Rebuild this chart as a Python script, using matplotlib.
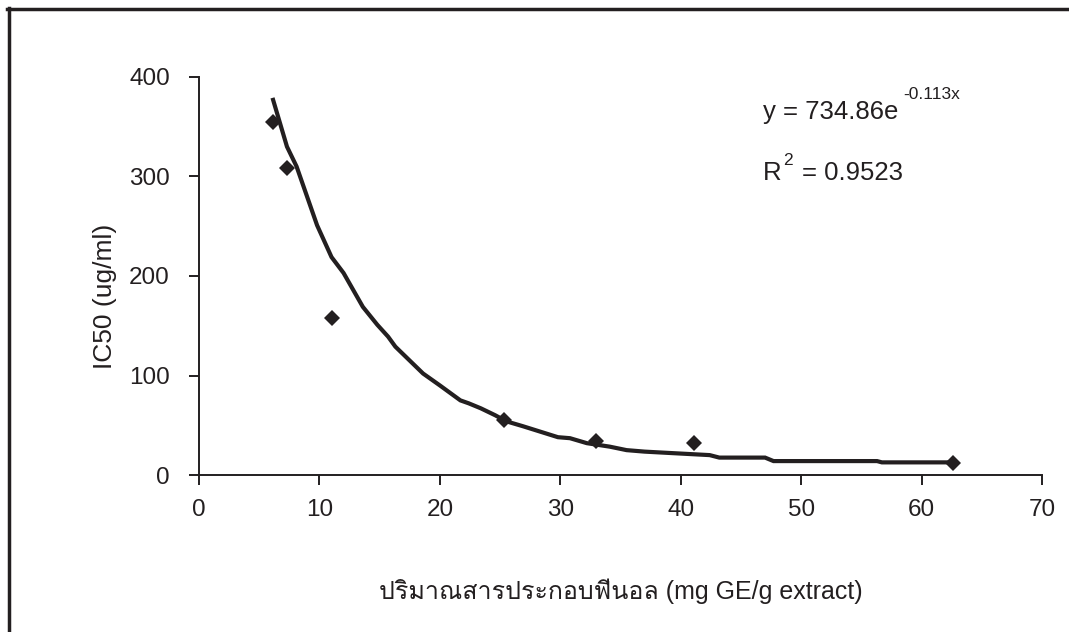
import numpy as np
import matplotlib
matplotlib.use('Agg')
import matplotlib.pyplot as plt
from matplotlib import font_manager
from matplotlib.ft2font import FT2Font

# data
phenol = [6.1, 7.3, 11.0, 25.3, 33.0, 41.1, 62.6]
ic50 = [355, 309, 158, 55, 34, 32, 12]
# trendline as drawn in the reference (traced, it is flatter than the printed fit)
trend_x = [6.1, 7.3, 8.1, 9.8, 11.0, 12.0, 13.6, 14.8, 15.7, 16.3, 18.6, 20.0,
           21.7, 22.4, 23.4, 24.6, 25.5, 26.9, 29.8, 30.8, 32.2, 34.1, 35.5,
           37.0, 39.3, 42.4, 43.2, 47.0, 47.7, 56.3, 56.7, 62.5]
trend_y = [379, 330, 310, 251, 219, 203, 169, 151, 139, 129, 102, 90,
           75, 72, 67, 60, 54, 49, 38, 37, 32, 28.5, 25,
           23.5, 22, 20, 17.5, 17.5, 14, 14, 12.7, 12.7]
xticks = [0, 10, 20, 30, 40, 50, 60, 70]
yticks = [0, 100, 200, 300, 400]

INK = '#231f20'


def find_thai_font():
    # pick an installed font that has Thai glyphs, if any
    for f in font_manager.fontManager.ttflist:
        try:
            ft = FT2Font(f.fname)
            if ft.get_char_index(0x0E1B) and ft.get_char_index(0x0E23):
                return f.name
        except Exception:
            pass
    return None


thai = find_thai_font()
families = ['Liberation Sans'] + ([thai] if thai else []) + ['DejaVu Sans']
plt.rcParams['font.family'] = families

fig = plt.figure(figsize=(10.69, 6.32), dpi=100)
ax = fig.add_axes([0.1862, 0.2484, 0.7886, 0.6298])

# outer frame: left and top only
fig.add_artist(plt.Line2D([0.0080, 0.0080], [0, 0.987], transform=fig.transFigure, color=INK, lw=2.5))
fig.add_artist(plt.Line2D([0.0066, 1], [0.985, 0.985], transform=fig.transFigure, color=INK, lw=2.5))

ax.plot(trend_x, trend_y, color=INK, lw=3, solid_joinstyle='miter', solid_capstyle='butt')
ax.plot(phenol, ic50, 'D', color=INK, markersize=8, markeredgewidth=0)

ax.set_xlim(0, 70)
ax.set_ylim(0, 400)
ax.set_xticks(xticks)
ax.set_yticks(yticks)
for s in ['top', 'right']:
    ax.spines[s].set_visible(False)
for s in ['left', 'bottom']:
    ax.spines[s].set_linewidth(1.4)
    ax.spines[s].set_color(INK)
ax.tick_params(direction='out', length=7, width=1.4, color=INK, labelsize=17.5, labelcolor=INK)
ax.tick_params(axis='x', pad=10)
ax.tick_params(axis='y', pad=14)

ax.set_xlabel('ปริมาณสารประกอบฟีนอล (mg GE/g extract)', fontsize=18, color=INK, labelpad=42)
ax.set_ylabel('IC50 (ug/ml)', fontsize=19, color=INK)
ax.yaxis.set_label_coords(-0.097, 0.45)

ax.text(0.669, 0.911, 'y = 734.86e', transform=ax.transAxes, fontsize=18.5, color=INK, va='center')
ax.text(0.835, 0.955, '-0.113x', transform=ax.transAxes, fontsize=12.5, color=INK, va='center')
ax.text(0.669, 0.760, 'R', transform=ax.transAxes, fontsize=18.5, color=INK, va='center')
ax.text(0.693, 0.791, '2', transform=ax.transAxes, fontsize=12.5, color=INK, va='center')
ax.text(0.715, 0.760, '= 0.9523', transform=ax.transAxes, fontsize=18.5, color=INK, va='center')

fig.savefig('out.png', dpi=100, facecolor='white')
